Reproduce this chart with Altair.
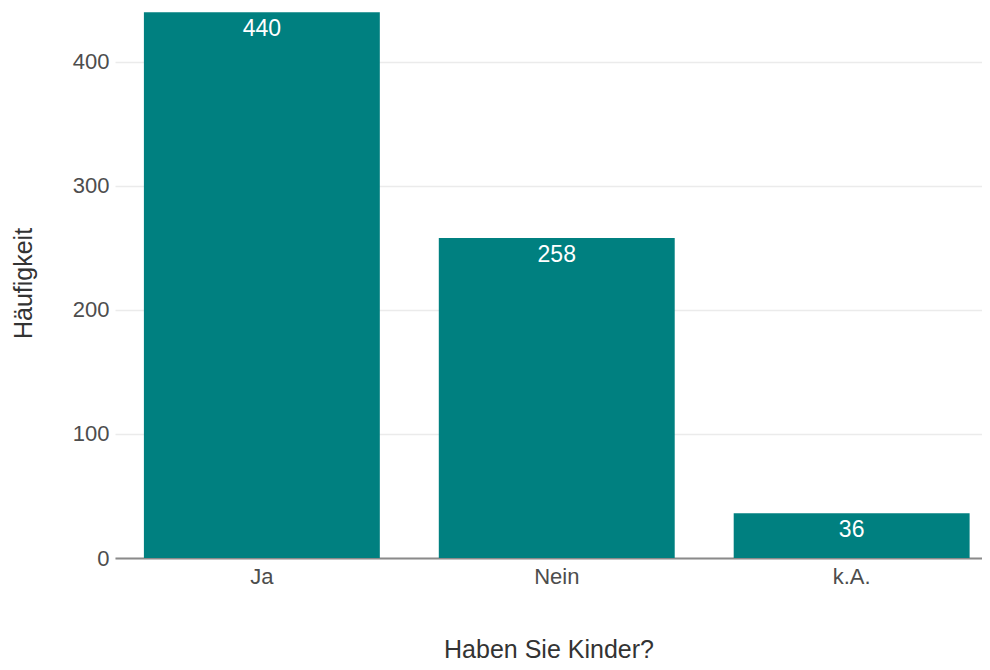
import altair as alt
import pandas as pd

categories = ["Ja", "Nein", "k.A."]
counts = [440, 258, 36]

df = pd.DataFrame({"Antwort": categories, "Anzahl": counts})

FONT = "Liberation Sans"
TEAL = "#008080"

base = alt.Chart(df).encode(
    x=alt.X(
        "Antwort:N",
        sort=categories,
        title="Haben Sie Kinder?",
        scale=alt.Scale(paddingInner=0.2, paddingOuter=0.07, align=0.7),
        axis=alt.Axis(
            labelAngle=0,
            labelFont=FONT,
            labelFontSize=22,
            labelColor="#4d4d4d",
            labelPadding=8,
            ticks=False,
            domain=True,
            domainColor="#8a8a8a",
            domainWidth=2,
            titleFont=FONT,
            titleFontSize=25,
            titleFontWeight="normal",
            titleColor="#333333",
            titlePadding=50,
            grid=False,
        ),
    ),
    y=alt.Y(
        "Anzahl:Q",
        title="Häufigkeit",
        scale=alt.Scale(domain=[0, 443.5], nice=False, zero=True),
        axis=alt.Axis(
            values=[0, 100, 200, 300, 400],
            labelFont=FONT,
            labelFontSize=22,
            labelColor="#4d4d4d",
            labelPadding=6,
            ticks=False,
            domain=False,
            grid=True,
            gridColor="#ebebeb",
            gridWidth=1.5,
            titleFont=FONT,
            titleFontSize=25,
            titleFontWeight="normal",
            titleColor="#333333",
            titlePadding=36,
        ),
    ),
)

bars = base.mark_bar(color=TEAL)

labels = base.mark_text(
    color="white",
    font=FONT,
    fontSize=23,
    baseline="top",
    dy=6,
).encode(text="Anzahl:Q")

chart = (
    (bars + labels)
    .properties(
        width=867,
        height=550,
        background="white",
        autosize=alt.AutoSizeParams(type="none"),
        padding={"left": 107, "top": 0, "right": 0, "bottom": 104},
    )
    .configure_view(strokeWidth=0, stroke="transparent")
)

chart.save("out.html", embed_options={"renderer": "svg", "actions": False})
